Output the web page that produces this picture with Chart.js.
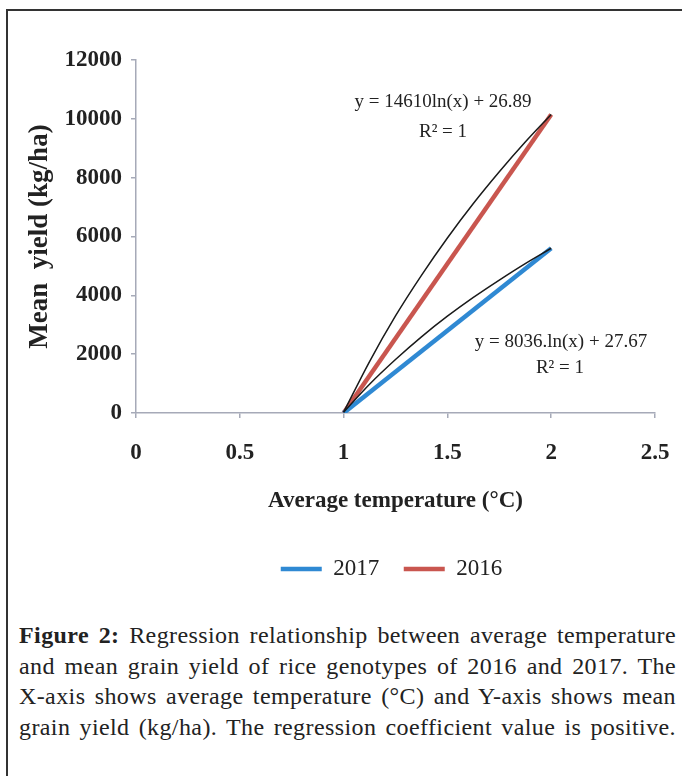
<!DOCTYPE html>
<html>
<head>
<meta charset="utf-8">
<script src="https://cdn.jsdelivr.net/npm/chart.js@4.4.1/dist/chart.umd.min.js"></script>
<style>
  html, body { margin: 0; padding: 0; background: #fff; }
  body { width: 682px; height: 776px; position: relative; overflow: hidden; }
  #frame {
    position: absolute; left: 6px; top: 9px; width: 690px; height: 800px;
    border-top: 2px solid #333; border-left: 2px solid #333;
  }
  #chart { position: absolute; left: 0; top: 0; }
  #caption {
    position: absolute; left: 19px; top: 620px; width: 657px;
    font-family: "Liberation Serif", serif; font-size: 24px; line-height: 30.5px;
    letter-spacing: 0.4px; color: #222;
  }
  #caption div { text-align: justify; text-align-last: justify; white-space: nowrap; }
</style>
</head>
<body>
<div id="frame"></div>
<canvas id="chart" width="682" height="620"></canvas>
<div id="caption">
  <div><b>Figure 2:</b> Regression relationship between average temperature</div>
  <div>and mean grain yield of rice genotypes of 2016 and 2017. The</div>
  <div>X-axis shows average temperature (°C) and Y-axis shows mean</div>
  <div>grain yield (kg/ha). The regression coefficient value is positive.</div>
</div>
<script>
// data
const seriesNames = ['2017', '2016'];
const tempX = [1, 2];
const yield2017 = [0, 5600];
const yield2016 = [0, 10150];

// logarithmic trendlines
const trendX = [1, 1.125, 1.25, 1.375, 1.5, 1.625, 1.75, 1.875, 2];
const trend2017 = [28, 980, 1820, 2590, 3290, 3930, 4520, 5080, 5600];
const trend2016 = [27, 1750, 3300, 4680, 5950, 7120, 8200, 9210, 10150];

const xTickLabels = ['0', '0.5', '1', '1.5', '2', '2.5'];
const yTickLabels = ['0', '2000', '4000', '6000', '8000', '10000', '12000'];

const equations = [
  { text: 'y = 14610ln(x) + 26.89', x: 1.479, y: 10570 },
  { text: 'R² = 1', x: 1.479, y: 9550 },
  { text: 'y = 8036.ln(x) + 27.67', x: 2.047, y: 2414 },
  { text: 'R² = 1', x: 2.042, y: 1530 }
];

const serif = '"Liberation Serif", "Times New Roman", serif';
const axisGray = '#a6aab8';

function pts(xs, ys) {
  return xs.map((x, i) => ({ x: x, y: ys[i] }));
}

const equationLabels = {
  id: 'equationLabels',
  afterDatasetsDraw(chart) {
    const { ctx, scales } = chart;
    ctx.save();
    ctx.font = '19px ' + serif;
    ctx.fillStyle = '#222';
    ctx.textAlign = 'center';
    ctx.textBaseline = 'middle';
    equations.forEach(e => {
      ctx.fillText(e.text, scales.x.getPixelForValue(e.x), scales.y.getPixelForValue(e.y));
    });
    ctx.restore();
  }
};

// centre the legend under the plot area rather than the whole canvas
const legendShift = {
  id: 'legendShift',
  afterLayout(chart) {
    const lg = chart.legend;
    const mid = (chart.chartArea.left + chart.chartArea.right) / 2;
    const dx = mid - (lg.left + lg.right) / 2 - 4;
    lg.left += dx;
    lg.right += dx;
  }
};

const ctx = document.getElementById('chart').getContext('2d');
new Chart(ctx, {
  type: 'scatter',
  data: {
    datasets: [
      {
        label: seriesNames[0],
        data: pts(tempX, yield2017),
        showLine: true,
        borderColor: '#2f89d3',
        backgroundColor: '#2f89d3',
        borderWidth: 4.5,
        pointRadius: 0,
        order: 1
      },
      {
        label: seriesNames[1],
        data: pts(tempX, yield2016),
        showLine: true,
        borderColor: '#c9564f',
        backgroundColor: '#c9564f',
        borderWidth: 4.5,
        pointRadius: 0,
        order: 1
      },
      {
        label: 'trend 2017',
        data: pts(trendX, trend2017),
        showLine: true,
        borderColor: '#1a1a1a',
        borderWidth: 1.5,
        pointRadius: 0,
        cubicInterpolationMode: 'monotone',
        order: 0
      },
      {
        label: 'trend 2016',
        data: pts(trendX, trend2016),
        showLine: true,
        borderColor: '#1a1a1a',
        borderWidth: 1.5,
        pointRadius: 0,
        cubicInterpolationMode: 'monotone',
        order: 0
      }
    ]
  },
  options: {
    responsive: false,
    animation: false,
    devicePixelRatio: 1,
    layout: { padding: { left: 0, right: 27, top: 60, bottom: 29.5 } },
    plugins: {
      tooltip: { enabled: false },
      legend: {
        position: 'bottom',
        labels: {
          usePointStyle: true,
          pointStyle: 'line',
          pointStyleWidth: 41,
          padding: 24.5,
          color: '#222',
          font: { family: serif, size: 23 },
          filter: item => item.datasetIndex < 2
        }
      }
    },
    scales: {
      x: {
        type: 'linear',
        min: 0,
        max: 2.5,
        afterFit: s => { s.height = 120; s.paddingLeft = 0; s.paddingRight = 0; },
        ticks: {
          stepSize: 0.5,
          padding: 21,
          color: '#222',
          font: { family: serif, size: 23, weight: 'bold' },
          callback: (v, i) => xTickLabels[i]
        },
        grid: { drawOnChartArea: false, tickLength: 5, color: axisGray, lineWidth: 1.5 },
        border: { color: axisGray, width: 1.5 },
        title: {
          display: true,
          text: 'Average temperature (°C)',
          color: '#222',
          font: { family: serif, size: 23, weight: 'bold' },
          padding: { top: 0, bottom: 18 }
        }
      },
      y: {
        min: 0,
        max: 12000,
        afterFit: s => { s.width = 136; },
        ticks: {
          stepSize: 2000,
          padding: 9,
          color: '#222',
          font: { family: serif, size: 23, weight: 'bold' },
          callback: (v, i) => yTickLabels[i]
        },
        grid: { drawOnChartArea: false, tickLength: 5, color: axisGray, lineWidth: 1.5 },
        border: { color: axisGray, width: 1.5 },
        title: {
          display: true,
          text: 'Mean  yield (kg/ha)',
          color: '#222',
          font: { family: serif, size: 27, weight: 'bold' },
          padding: { top: 24, bottom: 0 }
        }
      }
    }
  },
  plugins: [equationLabels, legendShift]
});
</script>
</body>
</html>
